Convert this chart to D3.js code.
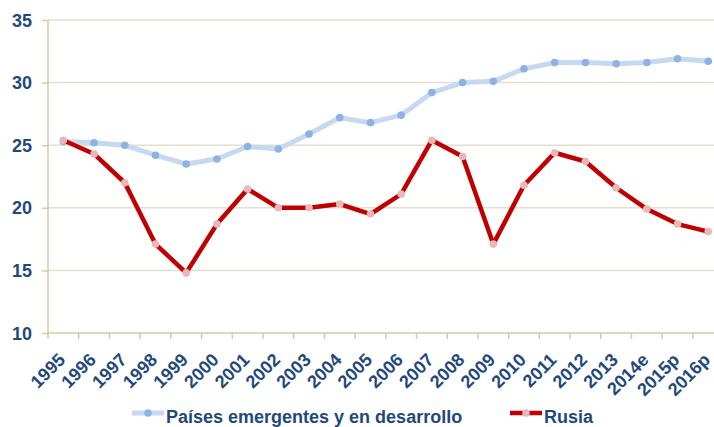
<!DOCTYPE html>
<html>
<head>
<meta charset="utf-8">
<script src="https://cdn.jsdelivr.net/npm/d3@7"></script>
<style>
  html, body { margin: 0; padding: 0; background: #fff; overflow: hidden; }
  svg { display: block; }
</style>
</head>
<body>
<svg id="chart" width="714" height="427"></svg>
<script>
const categories = ["1995","1996","1997","1998","1999","2000","2001","2002","2003","2004","2005","2006","2007","2008","2009","2010","2011","2012","2013","2014e","2015p","2016p"];
const emergentes = [25.3,25.2,25.0,24.2,23.5,23.9,24.9,24.7,25.9,27.2,26.8,27.4,29.2,30.0,30.1,31.1,31.6,31.6,31.5,31.6,31.9,31.7];
const rusia = [25.4,24.3,22.0,17.1,14.8,18.7,21.5,20.0,20.0,20.3,19.5,21.1,25.4,24.1,17.1,21.8,24.4,23.7,21.6,19.9,18.7,18.1];
const yTicks = [10,15,20,25,30,35];
const seriesNames = ["Países emergentes y en desarrollo", "Rusia"];

const textColor = "#1f497d";
const axisColor = "#d4cca6";
const gridColor = "#e4e0cc";
const series = [
  { name: seriesNames[0], values: emergentes, line: "#c6d9f1", marker: "#8db3e2", width: 5 },
  { name: seriesNames[1], values: rusia, line: "#c00000", marker: "#e6b9b8", width: 4.5 }
];

const svg = d3.select("#chart");
const plotLeft = 48, plotTop = 20, plotBottom = 333;
const step = 30.71;

const x = d3.scaleBand().domain(categories).range([plotLeft, plotLeft + step * categories.length]).padding(0);
const y = d3.scaleLinear().domain([10, 35]).range([plotBottom, plotTop]);
const cx = d => x(d) + x.bandwidth() / 2;

// gridlines
svg.append("g").selectAll("line").data(yTicks.filter(t => t > 10)).join("line")
  .attr("x1", plotLeft).attr("x2", 714)
  .attr("y1", d => y(d)).attr("y2", d => y(d))
  .attr("stroke", gridColor).attr("stroke-width", 1.5);

// y axis
const yAxis = d3.axisLeft(y).tickValues(yTicks).tickSize(6).tickPadding(10).tickFormat(d3.format("d"));
const gy = svg.append("g").attr("transform", `translate(${plotLeft},0)`).call(yAxis);
gy.select(".domain").attr("stroke", axisColor).attr("stroke-width", 1.5).attr("d", `M0,${plotTop}V${plotBottom}`);
gy.selectAll(".tick line").attr("stroke", axisColor).attr("stroke-width", 1.5);
gy.selectAll(".tick text")
  .attr("fill", textColor).attr("font-family", "Liberation Sans, Arial, sans-serif")
  .attr("font-weight", "bold").attr("font-size", 18).attr("dy", "0.34em");

// x axis
const xAxis = d3.axisBottom(x).tickSize(0).tickFormat(d => d);
const gx = svg.append("g").attr("transform", `translate(0,${plotBottom})`).call(xAxis);
gx.select(".domain").attr("stroke", axisColor).attr("stroke-width", 1.5).attr("d", `M${plotLeft},0H714`);
gx.selectAll(".tick text")
  .attr("fill", textColor).attr("font-family", "Liberation Sans, Arial, sans-serif")
  .attr("font-weight", "bold").attr("font-size", 18)
  .attr("text-anchor", "end")
  .attr("transform", "translate(-1.5,23.5) rotate(-45)")
  .attr("x", 0).attr("y", 0).attr("dy", "0.35em");
// x tick marks at band boundaries
svg.append("g").selectAll("line").data(categories).join("line")
  .attr("x1", d => x(d)).attr("x2", d => x(d))
  .attr("y1", plotBottom).attr("y2", plotBottom + 6)
  .attr("stroke", axisColor).attr("stroke-width", 1.5);

// lines
const lineGen = d3.line().x((d, i) => cx(categories[i])).y(d => y(d));
series.forEach(s => {
  svg.append("path").datum(s.values)
    .attr("fill", "none").attr("stroke", s.line).attr("stroke-width", s.width)
    .attr("stroke-linejoin", "round").attr("d", lineGen);
  svg.append("g").selectAll("circle").data(s.values).join("circle")
    .attr("cx", (d, i) => cx(categories[i])).attr("cy", d => y(d))
    .attr("r", 3.8).attr("fill", s.marker);
});

// legend
const legendY = 413;
const legendItems = [
  { s: series[0], x0: 132 },
  { s: series[1], x0: 510 }
];
legendItems.forEach(it => {
  const g = svg.append("g");
  g.append("line").attr("x1", it.x0).attr("x2", it.x0 + 32)
    .attr("y1", legendY).attr("y2", legendY)
    .attr("stroke", it.s.line).attr("stroke-width", it.s.width);
  g.append("circle").attr("cx", it.x0 + 16).attr("cy", legendY).attr("r", 3.8).attr("fill", it.s.marker);
  g.append("text").attr("x", it.x0 + 34).attr("y", legendY + 10)
    .attr("fill", textColor).attr("font-family", "Liberation Sans, Arial, sans-serif")
    .attr("font-weight", "bold").attr("font-size", 18).text(it.s.name);
});
</script>
</body>
</html>
